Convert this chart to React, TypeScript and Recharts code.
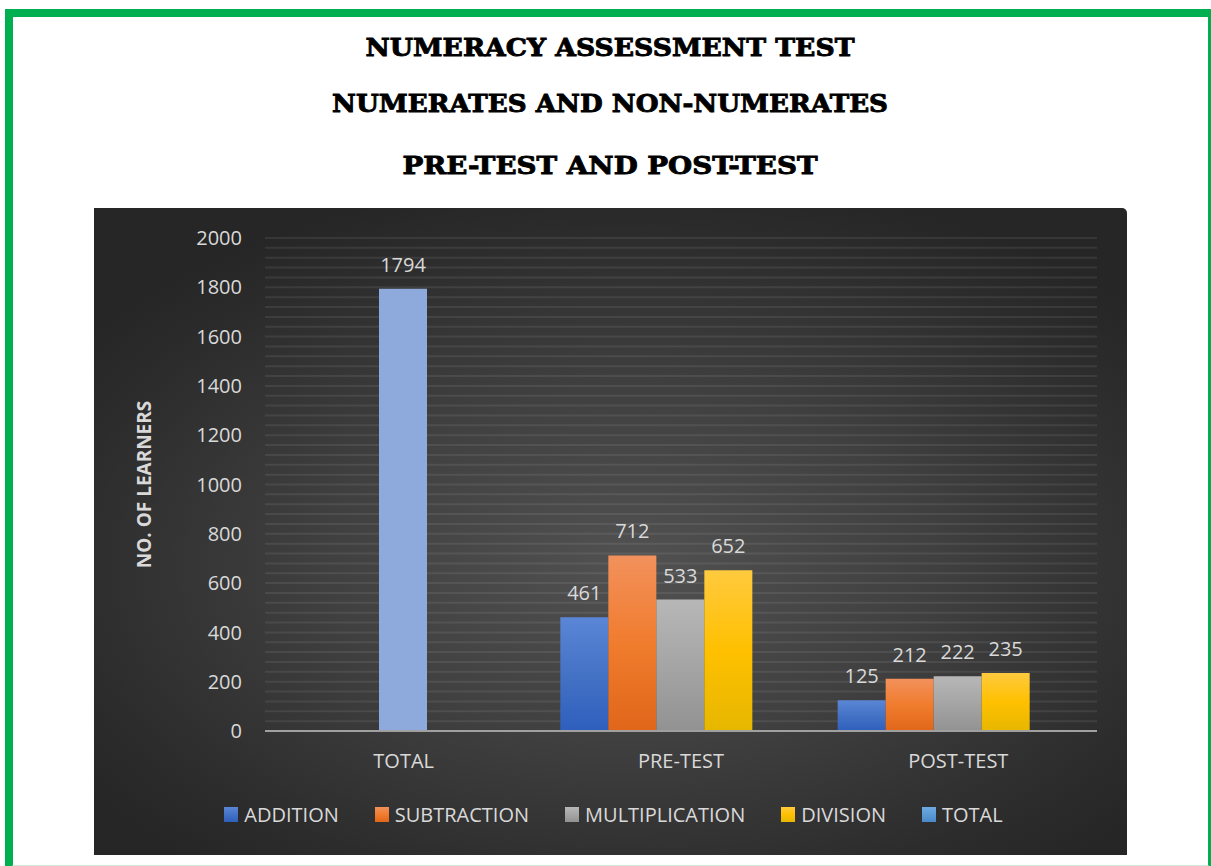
import React from 'react';
import { BarChart, Bar, XAxis, YAxis, CartesianGrid, Legend, LabelList } from 'recharts';

// chart values
const categories = ['TOTAL', 'PRE-TEST', 'POST-TEST'];
const addition = [0, 461, 125];
const subtraction = [0, 712, 212];
const multiplication = [0, 533, 222];
const division = [0, 652, 235];
const total = [1794, 0, 0];

const yTicks = [0, 200, 400, 600, 800, 1000, 1200, 1400, 1600, 1800, 2000];
const gridValues = Array.from({ length: 51 }, (_, i) => i * 40);

const titles = [
  { text: 'NUMERACY ASSESSMENT TEST', y: 56, len: 489 },
  { text: 'NUMERATES AND NON-NUMERATES', y: 112, len: 556 },
  { text: 'PRE-TEST AND POST-TEST', y: 174, len: 415 },
];

const data = categories.map((name, i) => ({
  name,
  addition: addition[i],
  subtraction: subtraction[i],
  multiplication: multiplication[i],
  division: division[i],
  total: total[i],
}));

const LEGEND_ITEMS = [
  { name: 'ADDITION', fill: 'url(#gAdd)' },
  { name: 'SUBTRACTION', fill: 'url(#gSub)' },
  { name: 'MULTIPLICATION', fill: 'url(#gMul)' },
  { name: 'DIVISION', fill: 'url(#gDiv)' },
  { name: 'TOTAL', fill: 'url(#gTot)' },
];

const LABEL_COLOR = '#d9d9d9';
const FONT = '"Open Sans", sans-serif';

const hideZero = (v: any) => (v ? v : '');

const Gradient = ({ id, top, mid, bottom }: { id: string; top: string; mid: string; bottom: string }) => (
  <linearGradient id={id} x1="0" y1="0" x2="0" y2="1">
    <stop offset="0%" stopColor={top} />
    <stop offset="50%" stopColor={mid} />
    <stop offset="100%" stopColor={bottom} />
  </linearGradient>
);

const LegendContent = () => (
  <div
    style={{
      height: 40,
      display: 'flex',
      justifyContent: 'center',
      alignItems: 'center',
      gap: 36,
      fontFamily: FONT,
      fontSize: 20,
      color: LABEL_COLOR,
      paddingLeft: 6,
    }}
  >
    {LEGEND_ITEMS.map((item) => (
      <div key={item.name} style={{ display: 'flex', alignItems: 'center' }}>
        <svg width={14} height={15} style={{ marginRight: 6 }}>
          <rect width={14} height={15} fill={item.fill} />
        </svg>
        <span>{item.name}</span>
      </div>
    ))}
  </div>
);

export default function App() {
  return (
    <div
      style={{
        position: 'absolute',
        left: 0,
        top: 0,
        width: 1211,
        height: 866,
        background: '#fff',
        overflow: 'hidden',
      }}
    >
      <div
        style={{
          position: 'absolute',
          left: 5,
          top: 9,
          width: 1211,
          height: 864,
          boxSizing: 'border-box',
          borderTop: '8px solid #00b050',
          borderLeft: '8px solid #00b050',
          borderRight: '8px solid #00b050',
          borderBottom: '8px solid #cdebd6',
        }}
      />
      <svg width={1211} height={200} style={{ position: 'absolute', left: 0, top: 0 }}>
        {titles.map((t) => (
          <text
            key={t.text}
            x={610}
            y={t.y}
            textAnchor="middle"
            textLength={t.len}
            lengthAdjust="spacingAndGlyphs"
            fontFamily='"DejaVu Serif", serif'
            fontWeight="bold"
            fontSize={25}
            fill="#000"
            stroke="#000"
            strokeWidth={0.9}
          >
            {t.text}
          </text>
        ))}
      </svg>
      <div
        style={{
          position: 'absolute',
          left: 94,
          top: 208,
          width: 1033,
          height: 647,
          borderTopRightRadius: 5,
          background:
            'radial-gradient(ellipse 65% 60% at 52% 55%, #515151 0%, #404040 45%, #2c2c2c 85%, #262626 100%)',
        }}
      >
        <BarChart
          width={1033}
          height={647}
          data={data}
          margin={{ top: 30, right: 30, left: 30, bottom: 21 }}
          barGap={0}
          barCategoryGap={18}
          style={{ fontFamily: FONT }}
        >
          <defs>
            <Gradient id="gAdd" top="#5b86d7" mid="#4472c4" bottom="#2f5fbe" />
            <Gradient id="gSub" top="#f2915c" mid="#f07c2e" bottom="#e0661a" />
            <Gradient id="gMul" top="#b7b7b7" mid="#a5a5a5" bottom="#929292" />
            <Gradient id="gDiv" top="#ffca3e" mid="#ffc000" bottom="#e6b700" />
            <Gradient id="gTot" top="#6eaae2" mid="#5b9bd5" bottom="#4a88c9" />
          </defs>
          <CartesianGrid
            vertical={false}
            horizontalValues={gridValues}
            stroke="#ffffff"
            strokeOpacity={0.08}
            strokeWidth={2}
          />
          <XAxis
            dataKey="name"
            height={63}
            tickLine={false}
            tickSize={0}
            tickMargin={23}
            axisLine={{ stroke: '#a0a0a0', strokeWidth: 2 }}
            tick={{ fill: LABEL_COLOR, fontSize: 20 }}
          />
          <YAxis
            width={141}
            domain={[0, 2000]}
            ticks={yTicks}
            interval={0}
            axisLine={false}
            tickLine={false}
            tickSize={0}
            tickMargin={23}
            tick={{ fill: LABEL_COLOR, fontSize: 20 }}
            label={{
              value: 'NO. OF LEARNERS',
              angle: -90,
              position: 'insideLeft',
              offset: 20,
              fill: LABEL_COLOR,
              fontSize: 19,
              fontWeight: 'bold',
              style: { textAnchor: 'middle' },
            }}
          />
          <Legend verticalAlign="bottom" content={<LegendContent />} />
          <Bar dataKey="addition" name="ADDITION" stackId="a" fill="url(#gAdd)" isAnimationActive={false}>
            <LabelList dataKey="addition" position="top" offset={17} fill={LABEL_COLOR} fontSize={20} formatter={hideZero} />
          </Bar>
          <Bar dataKey="subtraction" name="SUBTRACTION" stackId="b" fill="url(#gSub)" isAnimationActive={false}>
            <LabelList dataKey="subtraction" position="top" offset={17} fill={LABEL_COLOR} fontSize={20} formatter={hideZero} />
          </Bar>
          <Bar dataKey="multiplication" name="MULTIPLICATION" stackId="c" fill="url(#gMul)" isAnimationActive={false}>
            <LabelList dataKey="multiplication" position="top" offset={17} fill={LABEL_COLOR} fontSize={20} formatter={hideZero} />
          </Bar>
          <Bar dataKey="total" name="TOTAL" stackId="c" fill="#8eaadc" isAnimationActive={false}>
            <LabelList dataKey="total" position="top" offset={17} fill={LABEL_COLOR} fontSize={20} formatter={hideZero} />
          </Bar>
          <Bar dataKey="division" name="DIVISION" stackId="d" fill="url(#gDiv)" isAnimationActive={false}>
            <LabelList dataKey="division" position="top" offset={17} fill={LABEL_COLOR} fontSize={20} formatter={hideZero} />
          </Bar>
          {/* empty fifth slot, so the test groups sit left of centre like the original */}
          <Bar dataKey="spacer" stackId="e" fill="none" legendType="none" isAnimationActive={false} />
        </BarChart>
      </div>
    </div>
  );
}
